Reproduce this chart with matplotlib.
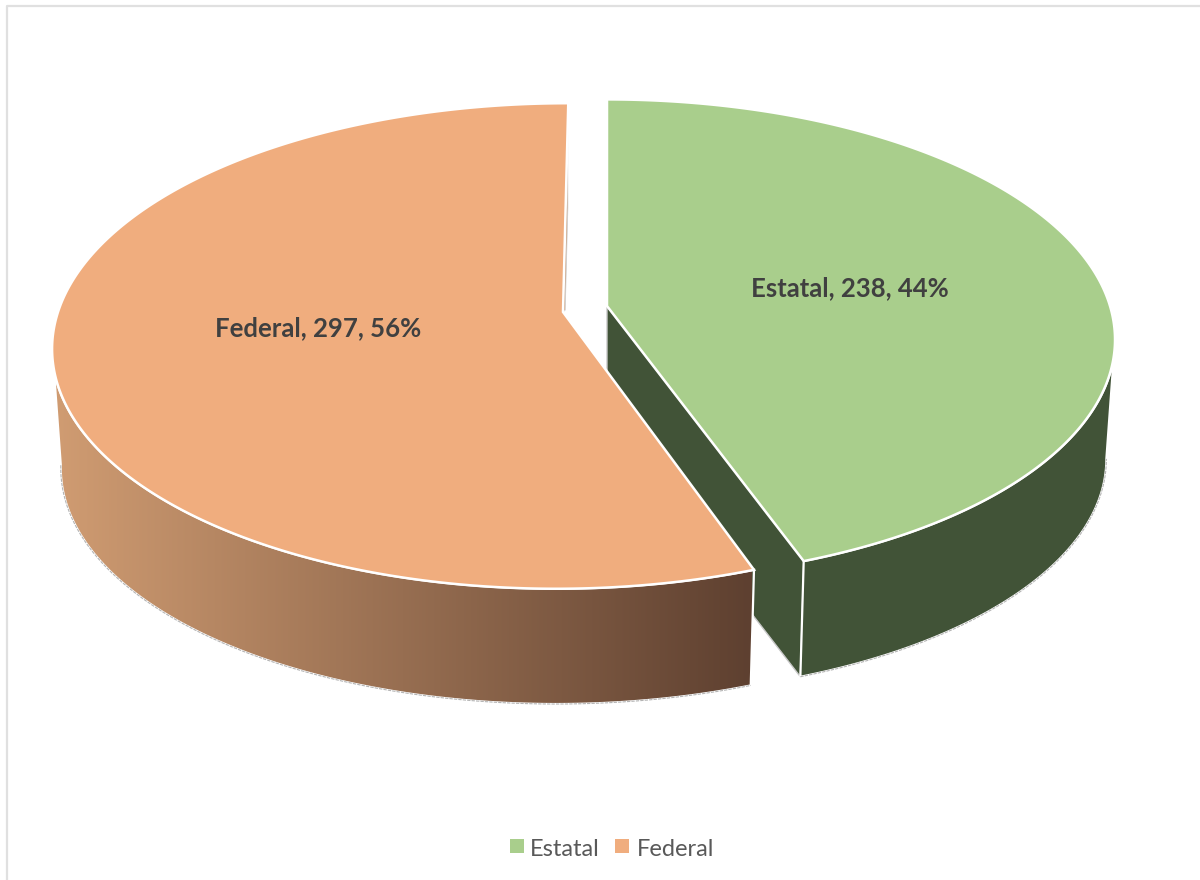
import numpy as np
from matplotlib import pyplot as plt
from matplotlib.patches import Polygon, Rectangle
from matplotlib.colors import LinearSegmentedColormap

categories = ["Estatal", "Federal"]
values = [238, 297]
top_colors = ["#A9CE8C", "#F0AD7E"]
wall_colors = ["#415337", "#D09C72"]
wall_dark = "#5E4030"
label_color = "#404040"
legend_color = "#595959"

plt.rcParams["font.family"] = ["Lato", "DejaVu Sans"]

# perspective of the pie, in picture pixels
PERSPECTIVE = 0.14
DEPTH = 120
BOTTOM_SCALE = 0.983
# where the rim turns back, this is where the side of the wall leaves it
SIDE_ANGLE = 98


def rim(theta, apex, radii, shear=0.0, lower=False):
    # theta is in degrees, clockwise from twelve o'clock
    t = np.radians(theta)
    u, v = np.sin(t), -np.cos(t)
    w = 1 - PERSPECTIVE * v
    scale = BOTTOM_SCALE if lower else 1.0
    x = apex[0] + scale * (radii[0] * u + shear * v) / w
    y = apex[1] + scale * radii[1] * v / w + (DEPTH if lower else 0)
    return np.column_stack([x, y])


def slice_top(ax, start, end, apex, radii, shear, color):
    pts = np.vstack([[apex], rim(np.linspace(start, end, 300), apex, radii, shear)])
    ax.add_patch(Polygon(pts, closed=True, fc=color, ec="white", lw=1.8, zorder=5))


def outer_wall(start, end, apex, radii, shear):
    theta = np.linspace(start, end, 300)
    return np.vstack([rim(theta, apex, radii, shear),
                      rim(theta, apex, radii, shear, lower=True)[::-1]])


fig = plt.figure(figsize=(12, 8.8), dpi=100)
ax = fig.add_axes([0, 0, 1, 1])
ax.set_xlim(0, 1200)
ax.set_ylim(880, 0)
ax.axis("off")

# chart frame, only its left and top show in the picture
ax.plot([7, 7, 1205], [885, 6, 6], color="#E0E0E0", lw=1.6, zorder=0)

split = values[0] / sum(values) * 360
apex_green = (607, 306)
radii_green = (503, 235.5)
apex_orange = (563, 312)
radii_orange = (505, 238)
shear_orange = -6

# green slice
end_top = rim(split, apex_green, radii_green)[0]
end_low = rim(split, apex_green, radii_green, lower=True)[0]
inner = [apex_green, end_top, end_low, (apex_green[0], apex_green[1] + DEPTH)]
ax.add_patch(Polygon(inner, closed=True, fc=wall_colors[0], ec="#C8C8C8", lw=1.0, zorder=1))
wall = outer_wall(SIDE_ANGLE, split, apex_green, radii_green, 0)
ax.add_patch(Polygon(wall, closed=True, fc=wall_colors[0], ec="white", lw=1.6, zorder=2))
ax.plot(*wall[300:].T, color="#B4B4B4", lw=0.8, ls=(0, (3, 1)), zorder=2)
slice_top(ax, 0, split, apex_green, radii_green, 0, top_colors[0])

# orange slice, the wall fades from light to dark brown
wall = outer_wall(split, 360 - SIDE_ANGLE, apex_orange, radii_orange, shear_orange)
patch = Polygon(wall, closed=True, fc="none", ec="none", zorder=3)
ax.add_patch(patch)
fade = LinearSegmentedColormap.from_list("fade", [wall_colors[1], wall_dark])
img = ax.imshow(np.linspace(0, 1, 256)[None, :], extent=(55, 752, 880, 0), cmap=fade,
                aspect="auto", zorder=3)
img.set_clip_path(patch)
ax.set_xlim(0, 1200)
ax.set_ylim(880, 0)
ax.add_patch(Polygon(wall, closed=True, fc="none", ec="white", lw=1.6, zorder=4))
ax.plot(*wall[300:].T, color="#B4B4B4", lw=0.8, ls=(0, (3, 1)), zorder=4)

# sliver of the hidden wall beside the top of the orange slice
rim_start = rim(0, apex_orange, radii_orange, shear_orange)[0]
sliver = [rim_start + (rim_start - apex_orange) * -0.12,
          (rim_start + apex_orange) / 2 + (2.2, 0),
          np.array(apex_orange) + (2.2, -2),
          apex_orange]
ax.add_patch(Polygon(sliver, closed=True, fc="#C8976F", ec="#D0D0D0", lw=0.6, zorder=4))
slice_top(ax, split, 360, apex_orange, radii_orange, shear_orange, top_colors[1])

# data labels
total = sum(values)
label_pos = [(850, 288), (318, 328)]
for name, val, pos in zip(categories, values, label_pos):
    ax.text(pos[0], pos[1], f"{name}, {val}, {round(100 * val / total)}%", ha="center",
            va="center", fontsize=18.5, fontweight="bold", color=label_color, zorder=6)

# legend
legend_x = [510, 615]
text_x = [530, 637]
for name, color, x, tx in zip(categories, top_colors, legend_x, text_x):
    ax.add_patch(Rectangle((x, 839), 14, 14, fc=color, ec="none", zorder=6))
    ax.text(tx, 850, name, ha="left", va="center", fontsize=17, color=legend_color, zorder=6)

fig.savefig("out.png", dpi=100)
